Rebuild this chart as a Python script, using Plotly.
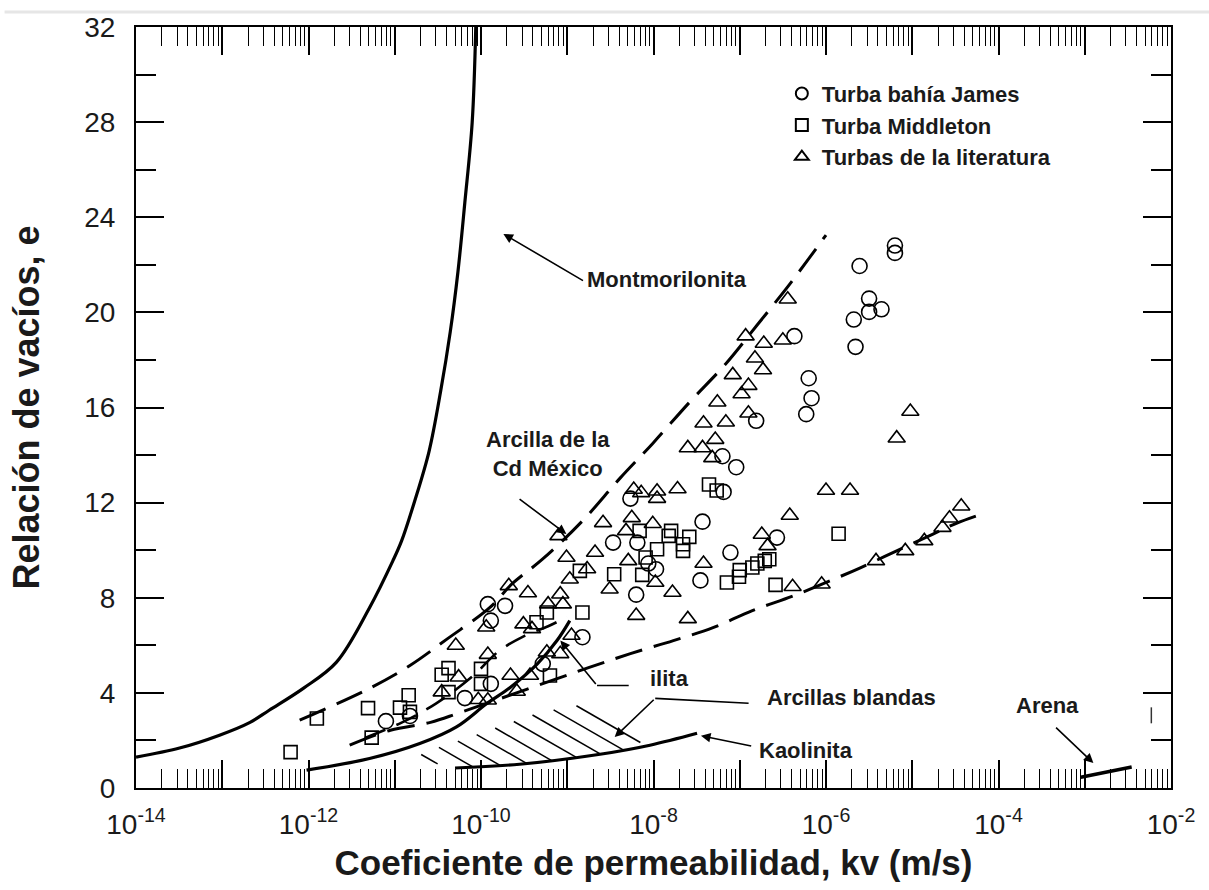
import math
import plotly.graph_objects as go

# ---- measured data: hydraulic conductivity k (m/s) vs void ratio e ----
james_k = [7.9e-12, 1.5e-11, 6.5e-11, 1.3e-10, 1.2e-10, 1.9e-10, 1.3e-10, 5.2e-10, 1.5e-9,
           6.8e-7, 5.9e-7, 6.3e-7, 1.55e-7, 6.3e-8, 9.1e-8, 6.5e-8, 5.4e-9, 3.7e-8, 3.4e-9,
           6.5e-9, 2.7e-7, 7.8e-8, 8.7e-9, 1.07e-8, 3.5e-8, 6.3e-9, 6.3e-6, 6.3e-6, 2.45e-6,
           3.16e-6, 3.16e-6, 4.4e-6, 2.1e-6, 2.2e-6, 4.3e-7]
james_e = [2.81, 3.03, 3.78, 4.38, 7.73, 7.66, 7.04, 5.22, 6.34,
           16.39, 15.72, 17.23, 15.44, 13.95, 13.49, 12.45, 12.17, 11.20, 10.32,
           10.32, 10.53, 9.90, 9.44, 9.20, 8.73, 8.13, 22.81, 22.50, 21.95,
           20.58, 20.02, 20.13, 19.70, 18.55, 19.00]

middleton_k = [6.2e-13, 1.25e-12, 4.9e-12, 5.4e-12, 1.45e-11, 1.15e-11, 1.5e-11, 4.2e-11, 3.5e-11,
               4.2e-11, 1.0e-10, 1.0e-10, 6.3e-10, 4.4e-10, 5.8e-10, 4.4e-8, 5.4e-8, 6.9e-9,
               1.6e-8, 1.5e-8, 2.6e-8, 2.2e-8, 2.2e-8, 1.1e-8, 8.1e-9, 3.5e-9, 7.4e-9, 1.4e-6,
               2.2e-7, 1.95e-7, 1.6e-7, 1.4e-7, 1.0e-7, 9.8e-8, 7.1e-8, 2.6e-7, 1.4e-9, 1.5e-9]
middleton_e = [1.51, 2.92, 3.36, 2.12, 3.90, 3.38, 3.20, 5.04, 4.76,
               4.03, 5.01, 4.38, 4.73, 6.97, 7.38, 12.76, 12.51, 10.81,
               10.81, 10.60, 10.56, 10.25, 9.97, 10.04, 9.69, 8.99, 8.96, 10.69,
               9.62, 9.55, 9.44, 9.27, 9.16, 8.88, 8.64, 8.54, 9.13, 7.38]

literature_k = [2.1e-10, 3.5e-10, 1.15e-10, 3.1e-10, 3.9e-10, 5.1e-11, 1.2e-10, 2.2e-10, 3.5e-11,
                9.3e-11, 1.2e-10, 2.6e-10, 3.7e-10, 6.0e-10, 8.9e-10, 8.3e-10, 9.8e-10, 8.3e-10,
                5.8e-10, 5.5e-11, 1.26e-7, 1.05e-7, 5.5e-8, 1.26e-7, 3.8e-8, 6.9e-8, 5.2e-8,
                2.5e-8, 3.7e-8, 4.8e-8, 5.9e-9, 7.2e-9, 1.1e-8, 1.1e-8, 1.9e-8, 1.0e-6, 3.8e-7,
                1.8e-7, 2.1e-7, 2.6e-9, 5.6e-9, 9.8e-9, 4.8e-9, 7.9e-10, 2.1e-9, 1.7e-9, 1.07e-9,
                5.1e-9, 3.8e-8, 1.05e-8, 3.1e-9, 1.66e-8, 6.3e-9, 2.5e-8, 4.1e-7, 8.9e-7, 1.12e-9,
                3.6e-7, 1.17e-7, 1.9e-7, 3.16e-7, 1.5e-7, 1.86e-7, 8.3e-8, 9.5e-6, 6.6e-6, 1.9e-6,
                3.8e-6, 8.3e-6, 1.38e-5, 2.24e-5, 2.7e-5, 3.7e-5]
literature_e = [8.50, 8.20, 6.76, 6.89, 6.69, 5.99, 5.61, 4.73, 4.03,
                3.71, 3.69, 4.06, 4.73, 7.73, 7.73, 8.15, 9.69, 5.64,
                5.71, 4.66, 16.92, 16.57, 16.22, 15.76, 15.34, 15.38, 14.65,
                14.30, 14.30, 13.88, 12.55, 12.41, 12.48, 12.17, 12.57, 12.51, 11.46,
                10.66, 10.18, 11.15, 11.36, 11.11, 10.81, 10.60, 9.90, 9.21, 8.78,
                9.55, 9.44, 8.64, 8.36, 8.22, 7.25, 7.11, 8.46, 8.57, 6.41,
                20.55, 19.00, 18.69, 18.83, 18.07, 17.58, 17.37, 15.83, 14.71, 12.51,
                9.55, 9.97, 10.39, 10.95, 11.34, 11.85]

# ---- reference curves ----
montmorillonite_k = [1e-14, 3.2e-14, 9.3e-14, 2.1e-13, 3.5e-13, 8.7e-13, 2.1e-12, 5.1e-12, 9.5e-12,
                     1.2e-11, 1.7e-11, 2.5e-11, 3.4e-11, 4.4e-11, 5.4e-11, 6.5e-11, 7.9e-11, 8.7e-11]
montmorillonite_e = [1.30, 1.68, 2.22, 2.76, 3.27, 4.19, 5.28, 7.58, 9.55,
                     10.39, 12.06, 14.16, 16.67, 19.18, 21.70, 24.63, 27.98, 32.0]

mexico_upper_k = [7.9e-13, 5.1e-12, 1.5e-11, 4.1e-11, 1.26e-10, 2.3e-10, 5.2e-10, 1.5e-9,
                  4.1e-9, 9.8e-9, 2.6e-8, 6.9e-8, 1.6e-7, 3.8e-7, 1.0e-6]
mexico_upper_e = [2.85, 4.19, 5.15, 6.28, 7.58, 8.59, 9.63, 11.23,
                  13.03, 14.49, 16.21, 17.84, 19.48, 21.19, 23.25]

mexico_lower_k = [4.5e-12, 1.2e-11, 3.0e-11, 8.0e-11, 1.6e-10, 3.2e-10, 6.0e-10, 1.0e-9]
mexico_lower_e = [2.10, 2.75, 3.55, 4.70, 5.75, 6.40, 6.80, 7.20]

peat_lower_k = [3.0e-12, 8.9e-12, 2.6e-11, 5.8e-11, 1.8e-9, 5.4e-9, 1.7e-8, 4.9e-8, 1.4e-7,
                4.2e-7, 1.35e-6, 2.5e-6, 6.6e-6, 1.74e-5, 3.3e-5, 6.9e-5]
peat_lower_e = [1.80, 2.43, 2.76, 3.18, 5.07, 5.65, 6.20, 6.74, 7.46,
                8.08, 8.84, 9.26, 9.97, 10.68, 11.14, 11.56]

illite_k = [9.5e-13, 5.1e-12, 1.95e-11, 5.2e-11, 1.17e-10, 2.2e-10, 4.5e-10, 7.6e-10, 1.07e-9]
illite_e = [0.75, 1.24, 1.87, 2.57, 3.55, 4.24, 5.22, 6.20, 7.04]

kaolinite_k = [5.0e-11, 2.8e-10, 2.4e-9, 9.1e-9, 3.2e-8]
kaolinite_e = [0.84, 1.00, 1.42, 1.80, 2.30]

# soft clay band (outline of the hatched zone)
soft_clay_k = [1.6e-11, 3.1e-11, 7.4e-11, 1.8e-10, 4.5e-10, 1.07e-9, 2.4e-9, 4.7e-9, 7.9e-9,
               5.0e-9, 2.4e-9, 2.8e-10, 5.0e-11]
soft_clay_e = [1.26, 1.68, 2.14, 2.64, 3.14, 3.43, 3.56, 2.85, 2.01,
               1.62, 1.42, 1.00, 0.84]

sand_k = [9.0e-4, 3.5e-3]
sand_e = [0.45, 0.88]

x_tick_exp = list(range(-14, -1))
y_major = [0, 4, 8, 12, 16, 20, 24, 28, 32]
y_minor = [2, 6, 10, 14, 18, 22, 26, 30]

FONT = "Liberation Sans, Arial, sans-serif"
INK = "#1a1a1a"

W, H = 1209, 890
ML, MR, MT, MB = 136, 38, 24, 102
X_RANGE, Y_RANGE = (-14, -2), (0, 32)
sx = (W - ML - MR) / (X_RANGE[1] - X_RANGE[0])
sy = (H - MT - MB) / (Y_RANGE[1] - Y_RANGE[0])


def to_px(k, e):
    return (math.log10(k) - X_RANGE[0]) * sx, (e - Y_RANGE[0]) * sy


def from_px(u, v):
    return 10 ** (u / sx + X_RANGE[0]), v / sy + Y_RANGE[0]


def hatch(kk, ee, spacing=15.0, angle_deg=-30.0):
    """Parallel hatch segments clipped to a polygon, computed in screen units."""
    poly = [to_px(k, e) for k, e in zip(kk, ee)]
    a = math.radians(angle_deg)
    d = (math.cos(a), math.sin(a))
    n = (-d[1], d[0])
    proj = [p[0] * n[0] + p[1] * n[1] for p in poly]
    xs, ys = [], []
    c = min(proj) + spacing / 2
    while c < max(proj):
        ts = []
        for i in range(len(poly)):
            p, q = poly[i], poly[(i + 1) % len(poly)]
            fp = p[0] * n[0] + p[1] * n[1] - c
            fq = q[0] * n[0] + q[1] * n[1] - c
            if (fp < 0) != (fq < 0):
                r = fp / (fp - fq)
                x = p[0] + r * (q[0] - p[0])
                y = p[1] + r * (q[1] - p[1])
                ts.append(x * d[0] + y * d[1])
        ts.sort()
        for t0, t1 in zip(ts[0::2], ts[1::2]):
            for t in (t0, t1):
                u, v = c * n[0] + t * d[0], c * n[1] + t * d[1]
                k, e = from_px(u, v)
                xs.append(k)
                ys.append(e)
            xs.append(None)
            ys.append(None)
        c += spacing
    return xs, ys


fig = go.Figure()

hx, hy = hatch(soft_clay_k, soft_clay_e)
fig.add_trace(go.Scatter(x=hx, y=hy, mode="lines", line=dict(color="black", width=1.5),
                         showlegend=False, hoverinfo="skip"))

solid = dict(color="black", width=3.2, shape="spline")
dashed = dict(color="black", width=3, dash="28px,12px", shape="spline")
fig.add_trace(go.Scatter(x=montmorillonite_k, y=montmorillonite_e, mode="lines", line=solid, showlegend=False))
fig.add_trace(go.Scatter(x=illite_k, y=illite_e, mode="lines", line=solid, showlegend=False))
fig.add_trace(go.Scatter(x=kaolinite_k, y=kaolinite_e, mode="lines", line=solid, showlegend=False))
fig.add_trace(go.Scatter(x=sand_k, y=sand_e, mode="lines", line=dict(color="black", width=3.5), showlegend=False))
fig.add_trace(go.Scatter(x=mexico_upper_k, y=mexico_upper_e, mode="lines", line=dashed, showlegend=False))
fig.add_trace(go.Scatter(x=mexico_lower_k, y=mexico_lower_e, mode="lines",
                         line=dict(color="black", width=2.6, dash="22px,12px", shape="spline"), showlegend=False))
fig.add_trace(go.Scatter(x=peat_lower_k, y=peat_lower_e, mode="lines", line=dashed, showlegend=False))

mk = dict(color="black", line=dict(color="black", width=1.6))
fig.add_trace(go.Scatter(x=james_k, y=james_e, mode="markers", name="Turba bahía James",
                         marker=dict(symbol="circle-open", size=15, **mk)))
fig.add_trace(go.Scatter(x=middleton_k, y=middleton_e, mode="markers", name="Turba Middleton",
                         marker=dict(symbol="square-open", size=13, **mk)))
fig.add_trace(go.Scatter(x=literature_k, y=literature_e, mode="markers", name="Turbas de la literatura",
                         marker=dict(symbol="triangle-up-open", size=15, **mk)))

lbl = dict(family=FONT, size=22, color=INK, weight="bold")


def note(text, x, y, **kw):
    fig.add_annotation(text=text, x=x, y=y, xref="x", yref="y", showarrow=False, font=lbl, **kw)


def arrow(x, y, ax, ay, head=2):
    fig.add_annotation(text="", x=x, y=y, ax=ax, ay=ay, xref="x", yref="y", axref="x", ayref="y",
                       showarrow=True, arrowhead=head, arrowsize=1.2, arrowwidth=1.6, arrowcolor="black")


note("Montmorilonita", -7.84, 21.4)
arrow(-9.74, 23.3, -8.8, 21.3)
note("Arcilla de la<br>Cd México", -9.22, 14.03, align="center")
arrow(-9.01, 10.68, -9.57, 12.19)
note("ilita", -7.81, 4.61)
arrow(-9.08, 6.20, -8.655, 4.31)
arrow(-8.655, 4.31, -8.27, 4.31, head=0)
note("Arcillas blandas", -5.70, 3.81)
arrow(-8.45, 2.14, -7.98, 3.77)
arrow(-7.98, 3.77, -6.88, 3.56, head=0)
note("Kaolinita", -6.23, 1.59)
arrow(-7.45, 2.2, -6.85, 1.75)
note("Arena", -3.43, 3.48)
arrow(-2.9, 1.05, -3.35, 2.6)

fig.update_layout(
    width=W, height=H,
    margin=dict(l=ML, r=MR, t=MT, b=MB),
    paper_bgcolor="white", plot_bgcolor="white",
    font=dict(family=FONT, color=INK),
    legend=dict(x=0.624, y=0.94, xanchor="left", yanchor="top", bgcolor="rgba(0,0,0,0)",
                font=dict(family=FONT, size=22, weight="bold", color=INK), itemsizing="constant",
                tracegroupgap=0),
    xaxis=dict(
        type="log", range=list(X_RANGE),
        tickmode="array", tickvals=[10.0 ** p for p in x_tick_exp],
        ticktext=[f"10<sup>{p}</sup>" if p % 2 == 0 else "" for p in x_tick_exp],
        ticks="inside", ticklen=28, tickwidth=1.6, tickcolor="black",
        showline=True, linewidth=2, linecolor="black", mirror="allticks",
        showgrid=False, zeroline=False, ticklabelstandoff=10,
        tickfont=dict(size=28, family=FONT),
        minor=dict(ticks="inside", ticklen=19, tickwidth=1.2, tickcolor="black",
                   tickmode="array",
                   tickvals=[m * 10.0 ** p for p in x_tick_exp[:-1] for m in range(2, 10)],
                   showgrid=False),
        title=dict(text="<b>Coeficiente de permeabilidad, kv (m/s)</b>", font=dict(size=35), standoff=12),
    ),
    yaxis=dict(
        range=list(Y_RANGE), tickmode="array", tickvals=y_major,
        ticks="inside", ticklen=28, tickwidth=1.6, tickcolor="black",
        showline=True, linewidth=2, linecolor="black", mirror="allticks",
        showgrid=False, zeroline=False, ticklabelstandoff=13,
        tickfont=dict(size=28, family=FONT),
        minor=dict(ticks="inside", ticklen=20, tickwidth=2, tickcolor="black",
                   tickmode="array", tickvals=y_minor, showgrid=False),
        title=dict(text="<b>Relación de vacíos, e</b>", font=dict(size=36), standoff=34),
    ),
)

fig.add_shape(type="line", xref="paper", yref="paper", x0=-0.127, x1=1.04, y0=1.0196, y1=1.0196,
              line=dict(color="#e6e6e6", width=3))
fig.add_shape(type="line", xref="paper", yref="paper", x0=0.981, x1=0.981, y0=0.085, y1=0.106,
              line=dict(color="#333333", width=1.5))

fig.write_html("out.html")
